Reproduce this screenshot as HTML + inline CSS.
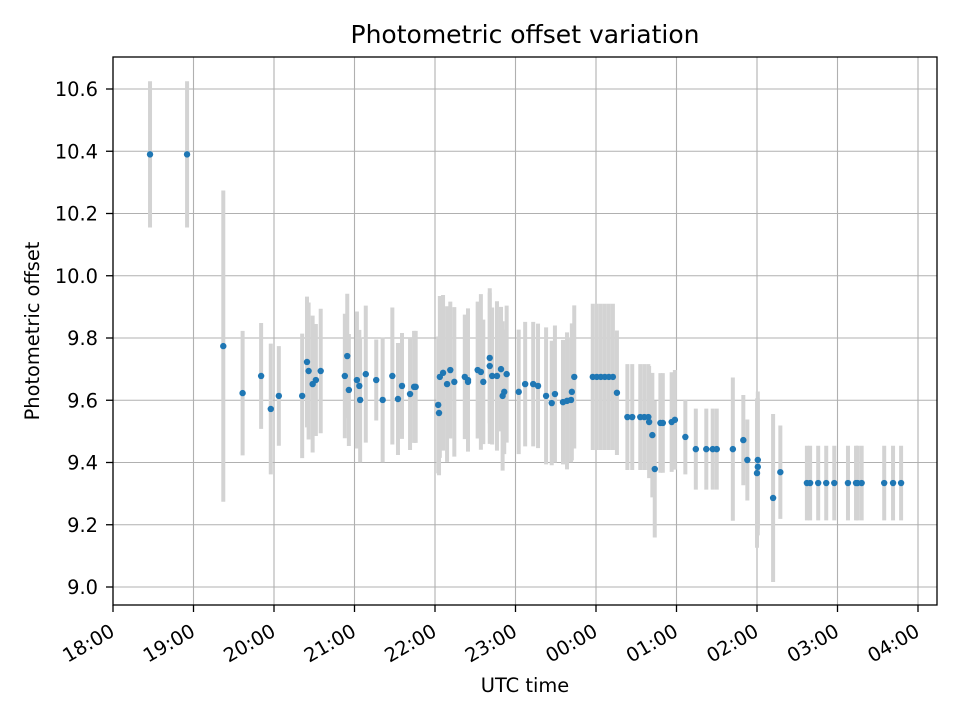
<!DOCTYPE html>
<html><head><meta charset="utf-8">
<style>
html,body{margin:0;padding:0;background:#fff;}
svg{display:block;font-family:"DejaVu Sans","Liberation Sans",sans-serif;}
</style></head>
<body>
<svg id="chart" width="960" height="720" viewBox="0 0 960 720" xmlns="http://www.w3.org/2000/svg">
<rect width="960" height="720" fill="#fff"/>
<g id="grid"></g>
<g id="bars"></g>
<g id="pts"></g>
<rect x="113" y="57" width="824" height="548" fill="none" stroke="#000" stroke-width="1.3"/>
<g id="axes"></g>
<text x="525" y="43" text-anchor="middle" font-size="25">Photometric offset variation</text>
<text x="525" y="692" text-anchor="middle" font-size="19.4">UTC time</text>
<text transform="translate(39,331) rotate(-90)" text-anchor="middle" font-size="19.4">Photometric offset</text>
</svg>
<script>
// hours since 18:00 UTC
const times = [0.46,0.92,1.37,1.61,1.84,1.96,2.06,2.35,2.41,2.43,2.48,2.52,2.58,2.88,2.91,2.93,3.03,3.06,3.07,3.14,3.27,3.35,3.47,3.54,3.59,3.69,3.74,3.76,4.04,4.05,4.06,4.10,4.15,4.19,4.24,4.37,4.41,4.41,4.53,4.57,4.60,4.68,4.68,4.71,4.77,4.82,4.84,4.86,4.89,5.04,5.12,5.22,5.28,5.38,5.45,5.49,5.59,5.64,5.69,5.70,5.73,5.96,6.01,6.06,6.11,6.16,6.21,6.26,6.39,6.45,6.55,6.60,6.65,6.66,6.70,6.73,6.80,6.83,6.94,6.98,7.11,7.24,7.37,7.45,7.50,7.70,7.83,7.88,8.01,8.01,8.00,8.20,8.29,8.62,8.66,8.76,8.86,8.96,9.13,9.23,9.25,9.30,9.58,9.69,9.79];
const offsets = [10.39,10.39,9.774,9.623,9.678,9.572,9.614,9.614,9.723,9.694,9.652,9.665,9.694,9.678,9.742,9.633,9.665,9.646,9.601,9.684,9.665,9.601,9.678,9.604,9.646,9.620,9.643,9.643,9.585,9.559,9.675,9.688,9.652,9.697,9.659,9.675,9.665,9.659,9.697,9.691,9.659,9.710,9.736,9.678,9.678,9.700,9.614,9.627,9.684,9.627,9.652,9.652,9.646,9.614,9.591,9.620,9.594,9.598,9.601,9.627,9.675,9.675,9.675,9.675,9.675,9.675,9.675,9.624,9.546,9.546,9.546,9.546,9.546,9.530,9.488,9.379,9.527,9.527,9.530,9.537,9.482,9.443,9.443,9.443,9.443,9.443,9.472,9.408,9.408,9.386,9.366,9.286,9.369,9.334,9.334,9.334,9.334,9.334,9.334,9.334,9.334,9.334,9.334,9.334,9.334];
const errors = [0.235,0.235,0.5,0.2,0.17,0.21,0.16,0.2,0.21,0.22,0.22,0.18,0.2,0.2,0.2,0.18,0.22,0.18,0.2,0.22,0.13,0.2,0.22,0.18,0.17,0.18,0.18,0.18,0.22,0.2,0.26,0.25,0.25,0.22,0.24,0.2,0.23,0.2,0.22,0.25,0.2,0.25,0.21,0.22,0.24,0.2,0.24,0.2,0.22,0.2,0.2,0.2,0.2,0.22,0.2,0.22,0.2,0.22,0.2,0.22,0.23,0.235,0.235,0.235,0.235,0.235,0.235,0.2,0.17,0.17,0.17,0.17,0.17,0.18,0.2,0.22,0.16,0.16,0.16,0.16,0.12,0.13,0.13,0.13,0.13,0.23,0.145,0.13,0.22,0.22,0.24,0.27,0.15,0.12,0.12,0.12,0.12,0.12,0.12,0.12,0.12,0.12,0.12,0.12,0.12];
const xTickLabels = ["18:00","19:00","20:00","21:00","22:00","23:00","00:00","01:00","02:00","03:00","04:00"];
const yTickLabels = ["9.0","9.2","9.4","9.6","9.8","10.0","10.2","10.4","10.6"];

const NS="http://www.w3.org/2000/svg";
const X0=113,PXH=80.5, Y0=587, PXU=311.25;
function xs(h){return X0+h*PXH;}
function ys(v){return Y0-(v-9.0)*PXU;}
function mk(tag,attrs,parent){const e=document.createElementNS(NS,tag);for(const k in attrs)e.setAttribute(k,attrs[k]);parent.appendChild(e);return e;}
const grid=document.getElementById('grid'),axes=document.getElementById('axes');
xTickLabels.forEach((lab,i)=>{
  const x=xs(i);
  const g=mk('line',{x1:x,x2:x,y1:57,y2:605,stroke:'#b0b0b0','stroke-width':1.1},grid);
  
  
  mk('line',{x1:x,x2:x,y1:605,y2:612,stroke:'#000','stroke-width':1.3},axes);
  const t=mk('text',{x:0,y:0,'font-size':19.4,'text-anchor':'end',transform:`translate(${x+3},${635}) rotate(-30)`},axes);
  t.textContent=lab;
  
  
});
yTickLabels.forEach(lab=>{
  const y=ys(parseFloat(lab));
  const g=mk('line',{x1:113,x2:937,y1:y,y2:y,stroke:'#b0b0b0','stroke-width':1.1},grid);
  
  
  mk('line',{x1:106,x2:113,y1:y,y2:y,stroke:'#000','stroke-width':1.3},axes);
  const t=mk('text',{x:98,y:y+7,'font-size':19.4,'text-anchor':'end'},axes);
  t.textContent=lab;
  
  
});
const bars=document.getElementById('bars'),pts=document.getElementById('pts');
times.forEach((h,i)=>{
  const x=xs(h),v=offsets[i],e=errors[i];
  const b=mk('line',{x1:x,x2:x,y1:ys(v+e),y2:ys(v-e),stroke:'#d3d3d3','stroke-width':4},bars);
  
  
  const c=mk('circle',{cx:x,cy:ys(v),r:3.2,fill:'#1f77b4'},pts);
  
  
});
</script>
</body></html>
